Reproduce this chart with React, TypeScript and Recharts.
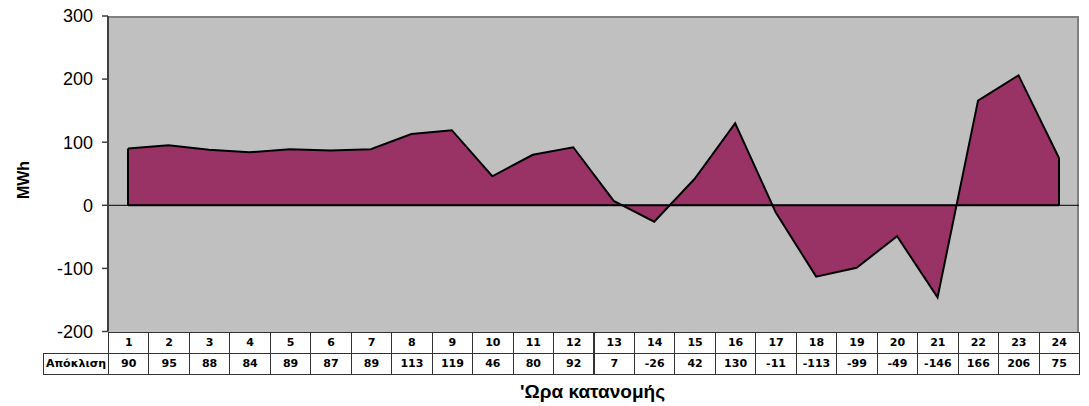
import React from "react";
import { AreaChart, Area, XAxis, YAxis, ReferenceLine } from "recharts";

const hours = [1, 2, 3, 4, 5, 6, 7, 8, 9, 10, 11, 12, 13, 14, 15, 16, 17, 18, 19, 20, 21, 22, 23, 24];
const deviation = [90, 95, 88, 84, 89, 87, 89, 113, 119, 46, 80, 92, 7, -26, 42, 130, -11, -113, -99, -49, -146, 166, 206, 75];
const yTicks = [-200, -100, 0, 100, 200, 300];
const rowLabel = "Απόκλιση";
const xTitle = "'Ωρα κατανομής";
const yTitle = "MWh";

const W = 1089;
const H = 406;
const plotLeft = 108;
const plotRight = 1079;
const plotTop = 16;
const plotBottom = 331.5;
const colW = (plotRight - plotLeft) / hours.length;
const rowH = 21;

const chartData = hours.map((h, i) => ({ hour: h, value: deviation[i] }));

const cellFont: React.CSSProperties = {
  position: "absolute",
  fontFamily: "'DejaVu Sans', Verdana, sans-serif",
  fontWeight: "bold",
  fontSize: 11,
  color: "#000",
  display: "flex",
  alignItems: "center",
  justifyContent: "center",
  boxSizing: "border-box",
  border: "1px solid #333",
};

export default function App() {
  const first = hours[0];
  const last = hours[hours.length - 1];

  return (
    <div style={{ position: "absolute", left: 0, top: 0, width: W, height: H, background: "#fff" }}>
      {/* plot background with grey frame */}
      <div
        style={{
          position: "absolute",
          left: plotLeft,
          top: plotTop,
          width: plotRight - plotLeft,
          height: plotBottom - plotTop,
          background: "#C0C0C0",
          borderTop: "2px solid #808080",
          borderRight: "2px solid #808080",
          boxSizing: "border-box",
        }}
      />
      <div style={{ position: "absolute", left: 0, top: 0 }}>
        <AreaChart
          width={W}
          height={H}
          data={chartData}
          margin={{ top: plotTop, right: W - plotRight, left: plotLeft - 60, bottom: H - plotBottom }}
        >
          <XAxis dataKey="hour" hide padding={{ left: 20, right: 20 }} />
          <YAxis
            width={60}
            domain={[-200, 300]}
            ticks={yTicks}
            interval={0}
            tick={{ fill: "#000", fontSize: 18, fontFamily: "'Liberation Sans', Arial, sans-serif" }}
            tickMargin={9}
            tickSize={6}
            tickLine={{ stroke: "#404040", strokeWidth: 1.5 }}
            axisLine={{ stroke: "#404040", strokeWidth: 2 }}
          />
          <Area
            type="linear"
            dataKey="value"
            stroke="#000"
            strokeWidth={2}
            fill="#993366"
            fillOpacity={1}
            isAnimationActive={false}
            dot={false}
            activeDot={false}
          />
          <ReferenceLine y={0} stroke="#000" strokeWidth={1} />
          <ReferenceLine
            segment={[{ x: first, y: 0 }, { x: last, y: 0 }]}
            stroke="#000"
            strokeWidth={2}
          />
          <ReferenceLine
            segment={[{ x: first, y: 0 }, { x: first, y: deviation[0] }]}
            stroke="#000"
            strokeWidth={2}
          />
          <ReferenceLine
            segment={[{ x: last, y: 0 }, { x: last, y: deviation[deviation.length - 1] }]}
            stroke="#000"
            strokeWidth={2}
          />
        </AreaChart>
      </div>

      {/* data table under the plot */}
      {hours.map((h, i) => (
        <div
          key={`h-${h}`}
          style={{ ...cellFont, left: plotLeft + i * colW, top: plotBottom, width: colW + 1, height: rowH + 1 }}
        >
          {h}
        </div>
      ))}
      <div style={{ ...cellFont, left: 43, top: plotBottom + rowH, width: plotLeft - 43 + 1, height: rowH + 1 }}>
        {rowLabel}
      </div>
      {deviation.map((v, i) => (
        <div
          key={`v-${i}`}
          style={{ ...cellFont, left: plotLeft + i * colW, top: plotBottom + rowH, width: colW + 1, height: rowH + 1 }}
        >
          {v}
        </div>
      ))}

      <div
        style={{
          position: "absolute",
          left: 0,
          width: W,
          top: 381,
          paddingLeft: 2 * 592.5 - W,
          boxSizing: "border-box",
          textAlign: "center",
          fontFamily: "'Liberation Sans', Arial, sans-serif",
          fontWeight: "bold",
          fontSize: 19,
          lineHeight: "21px",
        }}
      >
        {xTitle}
      </div>
      <div
        style={{
          position: "absolute",
          left: 24,
          top: 180,
          transform: "translate(-50%, -50%) rotate(-90deg)",
          fontFamily: "'Liberation Sans', Arial, sans-serif",
          fontWeight: "bold",
          fontSize: 16,
          whiteSpace: "nowrap",
        }}
      >
        {yTitle}
      </div>
    </div>
  );
}
